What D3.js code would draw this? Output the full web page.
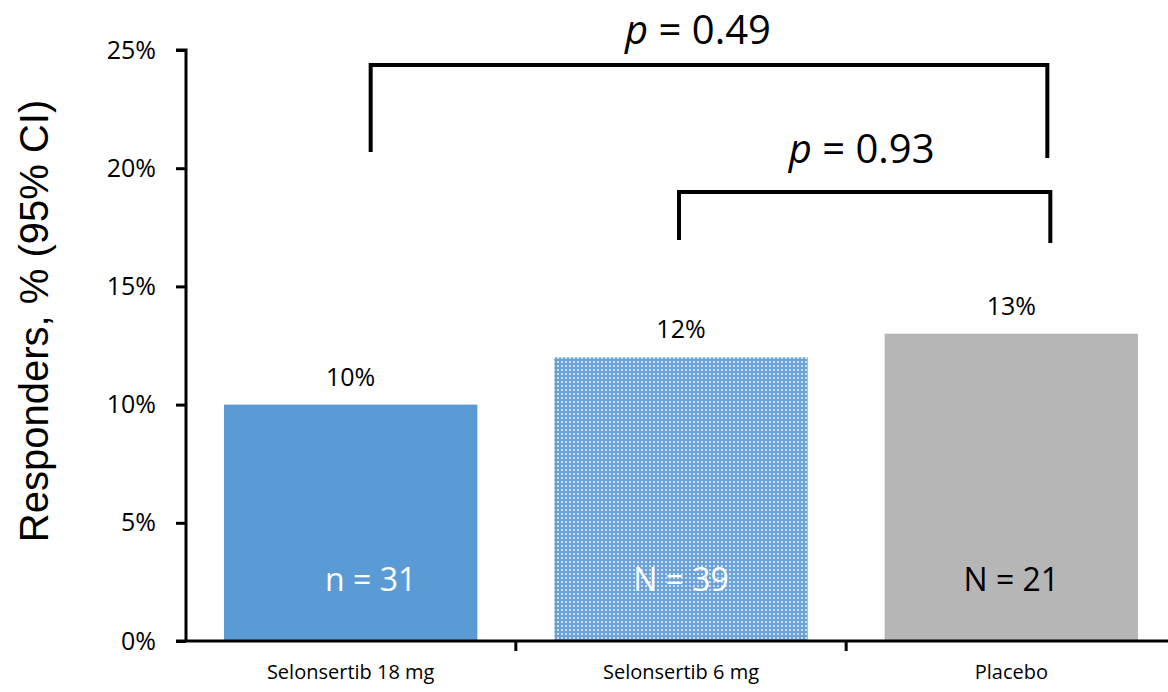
<!DOCTYPE html>
<html>
<head>
<meta charset="utf-8">
<script src="https://cdn.jsdelivr.net/npm/d3@7"></script>
<style>
  html, body { margin: 0; padding: 0; background: #fff; }
  svg { display: block; }
</style>
</head>
<body>
<svg id="chart" width="1168" height="692"></svg>
<script>
// Responder rates by treatment arm
const categories = ["Selonsertib 18 mg", "Selonsertib 6 mg", "Placebo"];
const responders = [10, 12, 13];
const sampleLabels = ["n = 31", "N = 39", "N = 21"];
const yTicks = [0, 5, 10, 15, 20, 25];
// pairwise comparisons: [from index, to index, p value]
const comparisons = [
  [0, 2, "0.49"],
  [1, 2, "0.93"]
];

const svg = d3.select("#chart");
const plotLeft = 186, plotRight = 1176, plotTop = 50, plotBottom = 641;

const x = d3.scaleBand().domain(categories).range([plotLeft, plotRight]).paddingInner(0.233).paddingOuter(0.115);
const y = d3.scaleLinear().domain([0, 25]).range([plotBottom, plotTop]);

const bodyFont = "'Open Sans', Lato, sans-serif";

// dotted fill for the middle arm
const defs = svg.append("defs");
const pat = defs.append("pattern").attr("id", "dots")
  .attr("patternUnits", "userSpaceOnUse").attr("width", 4).attr("height", 4);
pat.append("rect").attr("width", 4).attr("height", 4).attr("fill", "#6ba3d8");
pat.append("rect").attr("x", 1).attr("y", 1).attr("width", 2).attr("height", 2).attr("fill", "#c9dff3");

const fills = ["#5b9bd5", "url(#dots)", "#b6b6b6"];

// bars
svg.selectAll("rect.bar").data(categories).join("rect")
  .attr("class", "bar")
  .attr("x", d => x(d))
  .attr("y", (d, i) => y(responders[i]))
  .attr("width", x.bandwidth())
  .attr("height", (d, i) => y(0) - y(responders[i]))
  .attr("fill", (d, i) => fills[i]);

// y axis
const yAxis = d3.axisLeft(y).tickValues(yTicks).tickFormat(d => d + "%").tickSize(10).tickPadding(20);
const gy = svg.append("g").attr("transform", `translate(${plotLeft},0)`).call(yAxis);
gy.select(".domain").attr("stroke", "#000").attr("stroke-width", 3).attr("d", `M-10,${plotTop}H0V${plotBottom}`);
gy.selectAll(".tick line").attr("stroke", "#000").attr("stroke-width", 3);
gy.selectAll(".tick text").attr("font-family", bodyFont).attr("font-size", 25).attr("fill", "#000");

// x axis
const xAxis = d3.axisBottom(x).tickSize(0).tickPadding(24);
const gx = svg.append("g").attr("transform", `translate(0,${plotBottom})`).call(xAxis);
gx.select(".domain").attr("stroke", "#000").attr("stroke-width", 3).attr("d", `M${plotLeft - 10},0H1168`);
gx.selectAll(".tick text").attr("font-family", bodyFont).attr("font-size", 20).attr("fill", "#000");
// category separators
const seps = categories.map(c => x(c) - x.step() * x.paddingInner() / 2).slice(1);
gx.selectAll("line.sep").data(seps).join("line").attr("class", "sep")
  .attr("x1", d => d).attr("x2", d => d).attr("y1", 0).attr("y2", 10)
  .attr("stroke", "#000").attr("stroke-width", 3);

// y title
svg.append("text")
  .attr("transform", `translate(48,321) rotate(-90)`)
  .attr("text-anchor", "middle")
  .attr("font-family", "'Liberation Sans', Arial, sans-serif")
  .attr("font-size", 40).attr("fill", "#000")
  .text("Responders, % (95% CI)");

// value labels
svg.selectAll("text.val").data(categories).join("text").attr("class", "val")
  .attr("x", d => x(d) + x.bandwidth() / 2)
  .attr("y", (d, i) => y(responders[i]) - 19)
  .attr("text-anchor", "middle")
  .attr("font-family", bodyFont).attr("font-size", 25).attr("fill", "#000")
  .text((d, i) => responders[i] + "%");

// sample sizes inside bars
const nColors = ["#fff", "#fff", "#000"];
svg.selectAll("text.n").data(categories).join("text").attr("class", "n")
  .attr("x", (d, i) => x(d) + x.bandwidth() / 2 + (i === 0 ? 20 : 0))
  .attr("y", plotBottom - 50)
  .attr("text-anchor", "middle")
  .attr("font-family", bodyFont).attr("font-size", 32)
  .attr("fill", (d, i) => nColors[i])
  .text((d, i) => sampleLabels[i]);

// significance brackets
const bracketLayout = [
  { yBar: 65, legL: 152, legR: 158, dxL: 20, dxR: 36, textY: 44, textDx: -11 },
  { yBar: 192, legL: 240, legR: 243, dxL: -2, dxR: 39, textY: 163, textDx: -3 }
];
comparisons.forEach((c, k) => {
  const L = bracketLayout[k];
  const x1 = x(categories[c[0]]) + x.bandwidth() / 2 + L.dxL;
  const x2 = x(categories[c[1]]) + x.bandwidth() / 2 + L.dxR;
  svg.append("path")
    .attr("d", `M${x1},${L.legL}V${L.yBar}H${x2}V${L.legR}`)
    .attr("fill", "none").attr("stroke", "#000").attr("stroke-width", 4);
  const t = svg.append("text")
    .attr("x", (x1 + x2) / 2 + L.textDx).attr("y", L.textY)
    .attr("text-anchor", "middle")
    .attr("font-family", bodyFont).attr("font-size", 40).attr("fill", "#000");
  t.append("tspan").attr("font-style", "italic").text("p");
  t.append("tspan").text(" = " + c[2]);
});
</script>
</body>
</html>
